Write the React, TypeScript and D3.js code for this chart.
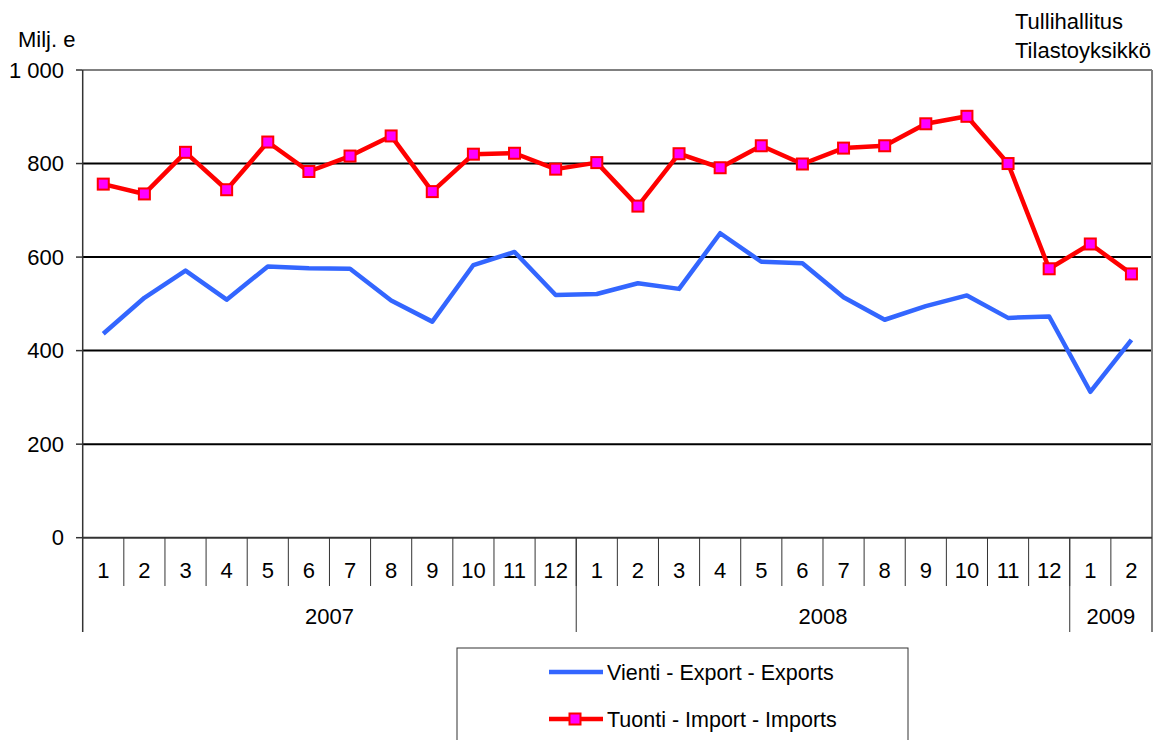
import React from "react";
import * as d3 from "d3";

const months = ["1","2","3","4","5","6","7","8","9","10","11","12","1","2","3","4","5","6","7","8","9","10","11","12","1","2"];
const years = [
  { label: "2007", start: 0, end: 12 },
  { label: "2008", start: 12, end: 24 },
  { label: "2009", start: 24, end: 26 },
];
const exportsData = [436, 513, 571, 509, 580, 576, 575, 507, 462, 583, 611, 519, 521, 544, 532, 651, 590, 587, 514, 466, 495, 518, 470, 473, 312, 423];
const importsData = [756, 735, 824, 744, 846, 783, 816, 859, 740, 820, 822, 788, 802, 709, 821, 791, 838, 799, 833, 838, 885, 901, 800, 575, 628, 564];
const yTicks = [0, 200, 400, 600, 800, 1000];
const yTickLabels = ["0", "200", "400", "600", "800", "1 000"];
const exportLabel = "Vienti - Export - Exports";
const importLabel = "Tuonti - Import - Imports";

export default function App() {
  const left = 82.7, right = 1152, top = 70, bottom = 537.7;
  const idx = months.map((_, i) => i);
  const x = d3.scaleBand<number>().domain(idx).range([left, right]).paddingInner(0).paddingOuter(0);
  const y = d3.scaleLinear().domain([0, 1000]).range([bottom, top]);
  const cx = (i: number) => (x(i) as number) + x.bandwidth() / 2;
  const line = d3.line<number>().x((_, i) => cx(i)).y((d) => y(d));
  const font = "'Liberation Sans', Arial, sans-serif";
  const bw = x.bandwidth();
  const edge = (i: number) => left + i * bw;
  const fs = 22;

  return (
    <svg width={1160} height={740} style={{ position: "absolute", left: 0, top: 0, background: "#fff" }} fontFamily={font}>
      {yTicks.filter((t) => t > 0 && t < 1000).map((t) => (
        <line key={t} x1={left} x2={right} y1={y(t)} y2={y(t)} stroke="#000" strokeWidth={2} />
      ))}
      <line x1={left} x2={right} y1={y(1000)} y2={y(1000)} stroke="#808080" strokeWidth={2} />
      <line x1={right} x2={right} y1={y(1000)} y2={632} stroke="#808080" strokeWidth={2} />
      <line x1={left} x2={left} y1={top} y2={632} stroke="#333" strokeWidth={1.5} />
      {yTicks.map((t, i) => (
        <g key={t}>
          <line x1={76} x2={left} y1={y(t)} y2={y(t)} stroke="#333" strokeWidth={1.5} />
          <text x={64} y={y(t)} dy="0.35em" textAnchor="end" fontSize={fs} fill="#000">{yTickLabels[i]}</text>
        </g>
      ))}
      <line x1={left} x2={right} y1={bottom} y2={bottom} stroke="#333" strokeWidth={2} />
      {idx.map((i) => (
        <g key={i}>
          {i > 0 && <line x1={edge(i)} x2={edge(i)} y1={bottom} y2={586} stroke="#333" strokeWidth={1} />}
          <text x={cx(i)} y={578} textAnchor="middle" fontSize={fs} fill="#000">{months[i]}</text>
        </g>
      ))}
      {years.map((yr) => (
        <g key={yr.label}>
          {yr.start > 0 && <line x1={edge(yr.start)} x2={edge(yr.start)} y1={bottom} y2={632} stroke="#333" strokeWidth={1} />}
          <text x={(edge(yr.start) + edge(yr.end)) / 2} y={624} textAnchor="middle" fontSize={fs} fill="#000">{yr.label}</text>
        </g>
      ))}
      <text x={18} y={47} fontSize={fs} fill="#000">Milj. e</text>
      <text x={1015} y={29} fontSize={fs} fill="#000">Tullihallitus</text>
      <text x={1015} y={58} fontSize={fs} fill="#000">Tilastoyksikkö</text>
      <path d={line(exportsData) || ""} fill="none" stroke="#3366FF" strokeWidth={4.5} strokeLinejoin="round" />
      <path d={line(importsData) || ""} fill="none" stroke="#FF0000" strokeWidth={4.5} strokeLinejoin="round" />
      {importsData.map((v, i) => (
        <rect key={i} x={cx(i) - 5.5} y={y(v) - 5.5} width={11} height={11} fill="#FF00FF" stroke="#FF0000" strokeWidth={2} />
      ))}
      <rect x={457} y={648} width={451} height={100} fill="#fff" stroke="#333" strokeWidth={1} />
      <line x1={549} x2={603} y1={672} y2={672} stroke="#3366FF" strokeWidth={4.5} />
      <text x={607} y={672} dy="0.35em" fontSize={21.5} fill="#000">{exportLabel}</text>
      <line x1={549} x2={603} y1={719} y2={719} stroke="#FF0000" strokeWidth={4.5} />
      <rect x={575 - 5.5} y={719 - 5.5} width={11} height={11} fill="#FF00FF" stroke="#FF0000" strokeWidth={2} />
      <text x={607} y={719} dy="0.35em" fontSize={21.5} fill="#000">{importLabel}</text>
    </svg>
  );
}
